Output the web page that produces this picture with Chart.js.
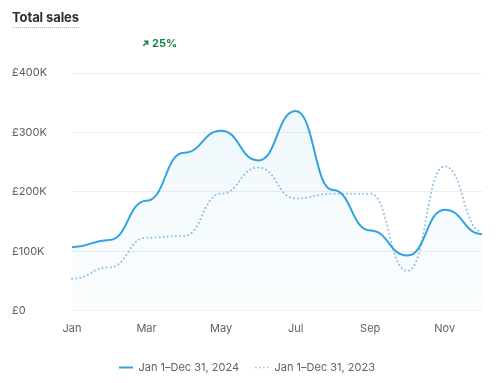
<!DOCTYPE html>
<html>
<head>
<meta charset="utf-8">
<script src="https://cdn.jsdelivr.net/npm/chart.js@4"></script>
<style>
  body { margin: 0; background: #fff; font-family: Inter, "Noto Sans", sans-serif; }
  .wrap { position: relative; width: 500px; height: 383px; }
  .title { position: absolute; left: 12px; top: 9px; font-size: 13px; font-weight: 650; color: #303030;
           padding-bottom: 2px; border-bottom: 1.5px dotted #b8b8b8; letter-spacing: -0.1px; }
  .delta { position: absolute; left: 142px; top: 36px; font-size: 11px; font-weight: 700; color: #14804a;
           display: flex; align-items: center; gap: 3px; }
  canvas { position: absolute; left: 0; top: 0; }
</style>
</head>
<body>
<div class="wrap">
  <canvas id="salesChart"></canvas>
  <div class="title">Total sales</div>
  <div class="delta">
    <svg width="7" height="7" viewBox="0 0 8 8"><path d="M1.5 6.5 L6 2 M2.5 1.5 H6.5 V5.5" stroke="#14804a" stroke-width="1.8" fill="none"/></svg>
    <span>25%</span>
  </div>
</div>
<script>
// ---data---
var months = ["Jan", "Feb", "Mar", "Apr", "May", "Jun", "Jul", "Aug", "Sep", "Oct", "Nov", "Dec"];
var sales2024 = [107000, 119000, 185000, 266000, 303000, 253000, 336000, 203000, 135000, 93000, 170000, 129000];
var sales2023 = [54000, 73000, 123000, 126000, 197000, 241000, 189000, 197000, 197000, 67000, 243000, 133000];
var yTicks = [0, 100000, 200000, 300000, 400000];

// ---flat tangent at every point (smooth steps)---
var flatCurve = {
  id: "flatCurve",
  beforeDatasetsDraw: function (chart) {
    chart.data.datasets.forEach(function (ds, i) {
      var meta = chart.getDatasetMeta(i);
      meta.dataset.updateControlPoints(chart.chartArea, "x");
      var pts = meta.data;
      for (var j = 0; j < pts.length; j++) {
        var p = pts[j], prev = pts[j - 1], next = pts[j + 1];
        p.cp1x = prev ? (prev.x + p.x) / 2 : p.x;
        p.cp1y = p.y;
        p.cp2x = next ? (p.x + next.x) / 2 : p.x;
        p.cp2y = p.y;
      }
      meta.dataset._path = undefined;
    });
  },
};

var ctx = document.getElementById("salesChart").getContext("2d");
var salesChart = new Chart(ctx, {
  type: "line",
  data: {
    labels: months,
    datasets: [
      {
        label: "Jan 1\u2013Dec 31, 2024",
        data: sales2024,
        borderColor: "#34a3dc",
        borderWidth: 2,
        tension: 0.4,
        pointRadius: 0,
        fill: "origin",
        backgroundColor: function (c) {
          var area = c.chart.chartArea;
          if (!area) return "rgba(52,163,220,0.06)";
          var g = c.chart.ctx.createLinearGradient(0, area.top, 0, area.bottom);
          g.addColorStop(0, "rgba(52,163,220,0.09)");
          g.addColorStop(1, "rgba(52,163,220,0.02)");
          return g;
        },
      },
      {
        label: "Jan 1\u2013Dec 31, 2023",
        data: sales2023,
        borderColor: "#92c4e6",
        borderWidth: 2,
        borderDash: [0.1, 4],
        borderCapStyle: "round",
        tension: 0.4,
        pointRadius: 0,
        fill: false,
      },
    ],
  },
  options: {
    responsive: true,
    maintainAspectRatio: false,
    animation: false,
    layout: { padding: { left: 12, right: 18, top: 73, bottom: 0 } },
    plugins: {
      tooltip: { enabled: false },
      legend: {
        position: "bottom",
        labels: {
          usePointStyle: true,
          pointStyleWidth: 14,
          boxHeight: 8,
          padding: 16,
          color: "#616161",
          font: { family: "Inter", size: 11 },
          generateLabels: function (chart) {
            return chart.data.datasets.map(function (ds, i) {
              return {
                text: ds.label,
                datasetIndex: i,
                pointStyle: "line",
                strokeStyle: i === 0 ? "#34a3dc" : "#92c4e6",
                fillStyle: "transparent",
                lineWidth: i === 0 ? 2 : 1.5,
                lineDash: i === 0 ? [] : [1.5, 2.5],
                lineCap: "butt",
                fontColor: "#616161",
                hidden: false,
              };
            });
          },
        },
      },
    },
    scales: {
      x: {
        afterFit: function (s) { s.height += 8; },
        grid: { display: false },
        border: { display: false },
        ticks: {
          autoSkip: false,
          maxRotation: 0,
          padding: 3,
          color: "#616161",
          font: { family: "Inter", size: 11 },
          callback: function (v, i) {
            return i % 2 === 0 ? months[i] : "";
          },
        },
      },
      y: {
        min: 0,
        max: 400000,
        afterFit: function (s) { s.width = 60; },
        afterBuildTicks: function (s) {
          s.ticks = yTicks.map(function (v) { return { value: v }; });
        },
        grid: { color: "#ededed", drawTicks: false },
        border: { display: false },
        ticks: {
          crossAlign: "far",
          color: "#616161",
          font: { family: "Inter", size: 11 },
          callback: function (v) {
            return v === 0 ? "\u00a30" : "\u00a3" + v / 1000 + "K";
          },
        },
      },
    },
  },
  plugins: [flatCurve],
});
</script>
</body>
</html>
